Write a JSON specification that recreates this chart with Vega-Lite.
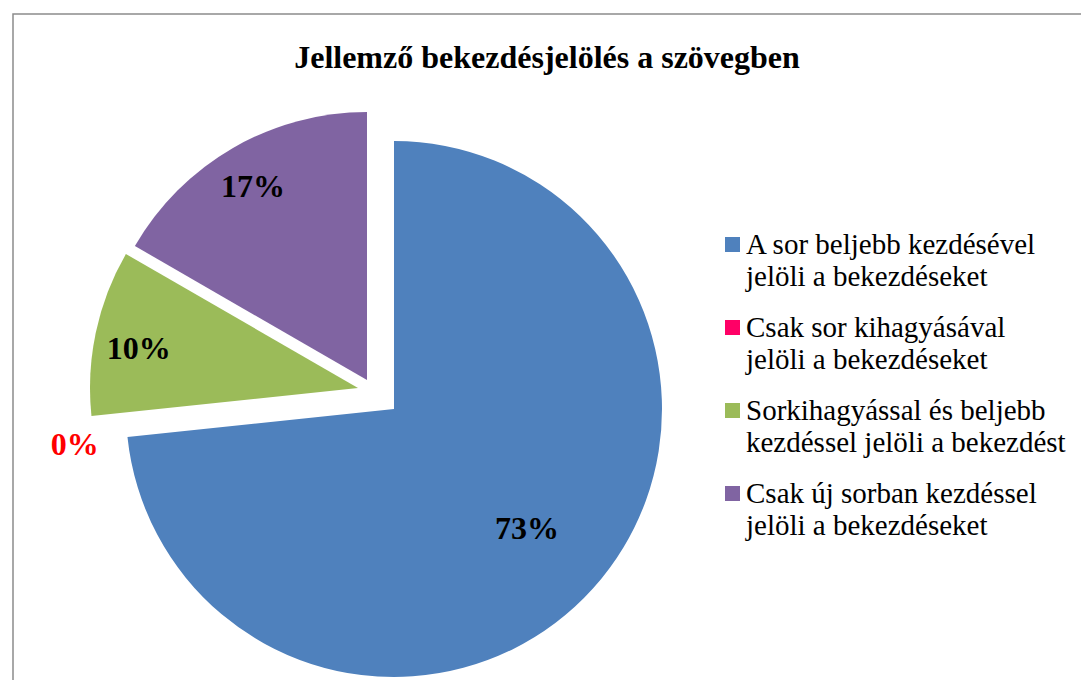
{
  "$schema": "https://vega.github.io/schema/vega-lite/v6.json",
  "width": 1068,
  "height": 666,
  "padding": {"left": 13, "top": 14, "right": 0, "bottom": 0},
  "autosize": {"type": "none"},
  "background": "white",
  "config": {
    "view": {"stroke": null},
    "font": "Liberation Serif"
  },
  "title": {
    "text": "Jellemző bekezdésjelölés a szövegben",
    "font": "Liberation Serif",
    "fontSize": 32,
    "fontWeight": "bold",
    "color": "black",
    "anchor": "middle",
    "baseline": "alphabetic",
    "offset": -87
  },
  "data": {
    "values": [
      {"cat": "A sor beljebb kezdésével|jelöli a bekezdéseket", "value": 22, "label": "73%", "order": 1},
      {"cat": "Csak sor kihagyásával|jelöli a bekezdéseket", "value": 0, "label": "0%", "order": 2},
      {"cat": "Sorkihagyással és beljebb|kezdéssel jelöli a bekezdést", "value": 3, "label": "10%", "order": 3},
      {"cat": "Csak új sorban kezdéssel|jelöli a bekezdéseket", "value": 5, "label": "17%", "order": 4}
    ]
  },
  "transform": [
    {"stack": "value", "groupby": [], "sort": [{"field": "order", "order": "ascending"}], "as": ["start", "end"]},
    {"calculate": "(datum.start + datum.end) / 2", "as": "mid"}
  ],
  "encoding": {
    "color": {
      "field": "cat",
      "type": "nominal",
      "scale": {
        "domain": [
          "A sor beljebb kezdésével|jelöli a bekezdéseket",
          "Csak sor kihagyásával|jelöli a bekezdéseket",
          "Sorkihagyással és beljebb|kezdéssel jelöli a bekezdést",
          "Csak új sorban kezdéssel|jelöli a bekezdéseket"
        ],
        "range": ["#4F81BD", "#FF0066", "#9BBB59", "#8064A2"]
      },
      "legend": {
        "title": null,
        "orient": "none",
        "legendX": 705,
        "legendY": 216,
        "symbolType": "square",
        "symbolSize": 225,
        "symbolStrokeWidth": 0,
        "labelFont": "Liberation Serif",
        "labelFontSize": 29,
        "labelColor": "black",
        "labelLimit": 400,
        "labelOffset": -1,
        "rowPadding": 21,
        "labelExpr": "split(datum.label, '|')",
        "encode": {
          "labels": {
            "update": {
              "font": {"value": "Liberation Serif"},
              "fontSize": {"value": 29},
              "lineHeight": {"value": 32},
              "fill": {"value": "black"}
            }
          }
        }
      }
    }
  },
  "layer": [
    {
      "data": {"values": [{"frame": 1}]},
      "mark": {"type": "rect", "fill": null, "stroke": "#8c8c8c", "strokeWidth": 1.5, "x2Offset": 6, "y2Offset": 6},
      "encoding": {
        "x": {"value": 0},
        "x2": {"value": "width"},
        "y": {"value": 0},
        "y2": {"value": "height"},
        "color": {"value": null}
      }
    },
    {
      "transform": [{"filter": "datum.order == 1"}],
      "mark": {"type": "arc", "outerRadius": 268, "xOffset": -153, "yOffset": 62},
      "encoding": {
        "theta": {"field": "start", "type": "quantitative", "scale": {"domain": [0, 30]}},
        "theta2": {"field": "end"}
      }
    },
    {
      "transform": [{"filter": "datum.order == 3"}],
      "mark": {"type": "arc", "outerRadius": 268, "xOffset": -189, "yOffset": 41},
      "encoding": {
        "theta": {"field": "start", "type": "quantitative", "scale": {"domain": [0, 30]}},
        "theta2": {"field": "end"}
      }
    },
    {
      "transform": [{"filter": "datum.order == 4"}],
      "mark": {"type": "arc", "outerRadius": 268, "xOffset": -180, "yOffset": 33},
      "encoding": {
        "theta": {"field": "start", "type": "quantitative", "scale": {"domain": [0, 30]}},
        "theta2": {"field": "end"}
      }
    },
    {
      "transform": [{"filter": "datum.order == 1"}],
      "mark": {"type": "text", "radius": 179, "xOffset": -153, "yOffset": 62, "font": "Liberation Serif", "fontSize": 32, "fontWeight": "bold"},
      "encoding": {
        "theta": {"field": "mid", "type": "quantitative", "scale": {"domain": [0, 30]}},
        "text": {"field": "label"},
        "color": {"value": "black"}
      }
    },
    {
      "transform": [{"filter": "datum.order == 2"}],
      "mark": {"type": "text", "radius": 305, "xOffset": -169, "yOffset": 66, "font": "Liberation Serif", "fontSize": 32, "fontWeight": "bold"},
      "encoding": {
        "theta": {"field": "mid", "type": "quantitative", "scale": {"domain": [0, 30]}},
        "text": {"field": "label"},
        "color": {"value": "#FF0000"}
      }
    },
    {
      "transform": [{"filter": "datum.order == 3"}],
      "mark": {"type": "text", "radius": 223, "xOffset": -190, "yOffset": 48, "font": "Liberation Serif", "fontSize": 32, "fontWeight": "bold"},
      "encoding": {
        "theta": {"field": "mid", "type": "quantitative", "scale": {"domain": [0, 30]}},
        "text": {"field": "label"},
        "color": {"value": "black"}
      }
    },
    {
      "transform": [{"filter": "datum.order == 4"}],
      "mark": {"type": "text", "radius": 222, "xOffset": -183, "yOffset": 32, "font": "Liberation Serif", "fontSize": 32, "fontWeight": "bold"},
      "encoding": {
        "theta": {"field": "mid", "type": "quantitative", "scale": {"domain": [0, 30]}},
        "text": {"field": "label"},
        "color": {"value": "black"}
      }
    }
  ]
}
